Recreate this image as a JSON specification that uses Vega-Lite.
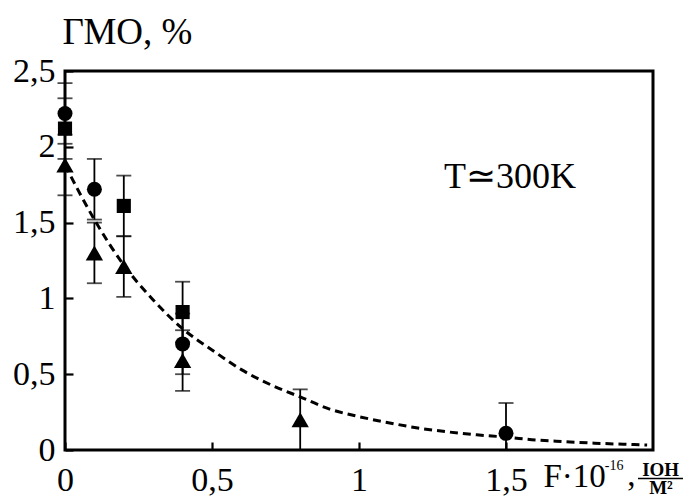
{
  "$schema": "https://vega.github.io/schema/vega-lite/v6.json",
  "width": 588,
  "height": 379,
  "autosize": {"type": "none"},
  "padding": {"left": 65, "top": 71, "right": 38, "bottom": 48},
  "background": "white",
  "config": {
    "view": {"stroke": "black", "strokeWidth": 3},
    "axis": {
      "domain": false,
      "grid": false,
      "tickColor": "black",
      "tickWidth": 2.2,
      "tickSize": -8,
      "labelFlush": false,
      "labelFont": "Liberation Serif",
      "labelFontSize": 34,
      "labelColor": "black",
      "titleFont": "Liberation Serif",
      "titleFontWeight": "normal",
      "titleColor": "black"
    },
    "text": {"font": "Liberation Serif", "color": "black"}
  },
  "datasets": {
    "points": [
      {"x": 0, "y": 2.22, "lo": 2.02, "hi": 2.42, "s": "circle"},
      {"x": 0.1, "y": 1.72, "lo": 1.52, "hi": 1.92, "s": "circle"},
      {"x": 0.4, "y": 0.70, "lo": 0.50, "hi": 0.90, "s": "circle"},
      {"x": 1.5, "y": 0.11, "lo": 0.0, "hi": 0.31, "s": "circle"},
      {"x": 0, "y": 2.12, "lo": 1.92, "hi": 2.32, "s": "square"},
      {"x": 0.2, "y": 1.61, "lo": 1.41, "hi": 1.81, "s": "square"},
      {"x": 0.4, "y": 0.91, "lo": 0.71, "hi": 1.11, "s": "square"},
      {"x": 0, "y": 1.88, "lo": 1.68, "hi": 2.08, "s": "triangle"},
      {"x": 0.1, "y": 1.30, "lo": 1.10, "hi": 1.50, "s": "triangle"},
      {"x": 0.2, "y": 1.21, "lo": 1.01, "hi": 1.41, "s": "triangle"},
      {"x": 0.4, "y": 0.59, "lo": 0.39, "hi": 0.79, "s": "triangle"},
      {"x": 0.8, "y": 0.20, "lo": 0.0, "hi": 0.40, "s": "triangle"}
    ],
    "curve": [
      {"x": 0, "y": 1.88},
      {"x": 0.1, "y": 1.52},
      {"x": 0.2, "y": 1.22},
      {"x": 0.3, "y": 0.99},
      {"x": 0.4, "y": 0.80},
      {"x": 0.5, "y": 0.66},
      {"x": 0.6, "y": 0.53},
      {"x": 0.7, "y": 0.43},
      {"x": 0.8, "y": 0.35},
      {"x": 0.9, "y": 0.27},
      {"x": 1.0, "y": 0.22},
      {"x": 1.1, "y": 0.18},
      {"x": 1.2, "y": 0.145},
      {"x": 1.3, "y": 0.12},
      {"x": 1.4, "y": 0.10},
      {"x": 1.5, "y": 0.085},
      {"x": 1.6, "y": 0.066},
      {"x": 1.7, "y": 0.055},
      {"x": 1.8, "y": 0.045},
      {"x": 1.9, "y": 0.038},
      {"x": 1.98, "y": 0.033}
    ],
    "one": [{"k": 1}]
  },
  "layer": [
    {
      "data": {"name": "curve"},
      "mark": {"type": "line", "color": "black", "strokeWidth": 3, "strokeDash": [8, 5], "interpolate": "monotone", "clip": false},
      "encoding": {
        "x": {
          "field": "x",
          "type": "quantitative",
          "scale": {"domain": [0, 2], "nice": false, "zero": false},
          "axis": {
            "values": [0, 0.5, 1, 1.5],
            "labelExpr": "replace(toString(datum.value), '.', ',')",
            "labelPadding": 21,
            "title": "F·10",
            "titleFontSize": 33,
            "titleAlign": "left",
            "titleBaseline": "alphabetic",
            "titleAnchor": "start",
            "titleX": 478,
            "titleY": 36
          }
        },
        "y": {
          "field": "y",
          "type": "quantitative",
          "scale": {"domain": [0, 2.5], "nice": false},
          "axis": {
            "values": [0, 0.5, 1, 1.5, 2, 2.5],
            "labelExpr": "replace(toString(datum.value), '.', ',')",
            "labelPadding": 18,
            "title": "ГМО, %",
            "titleFontSize": 37,
            "titleAngle": 0,
            "titleAlign": "left",
            "titleBaseline": "alphabetic",
            "titleAnchor": "start",
            "titleX": -3,
            "titleY": -28
          }
        }
      }
    },
    {
      "data": {"name": "points"},
      "mark": {"type": "rule", "color": "black", "strokeWidth": 1.8},
      "encoding": {
        "x": {"field": "x", "type": "quantitative"},
        "y": {"field": "lo", "type": "quantitative"},
        "y2": {"field": "hi"}
      }
    },
    {
      "data": {"name": "points"},
      "mark": {"type": "tick", "orient": "horizontal", "color": "black", "size": 15, "thickness": 1.8},
      "encoding": {
        "x": {"field": "x", "type": "quantitative"},
        "y": {"field": "hi", "type": "quantitative"}
      }
    },
    {
      "data": {"name": "points"},
      "mark": {"type": "tick", "orient": "horizontal", "color": "black", "size": 15, "thickness": 1.8},
      "encoding": {
        "x": {"field": "x", "type": "quantitative"},
        "y": {"field": "lo", "type": "quantitative"}
      }
    },
    {
      "data": {"name": "points"},
      "transform": [{"filter": "datum.s === 'circle'"}],
      "mark": {"type": "point", "shape": "circle", "size": 225, "filled": true, "color": "black", "opacity": 1, "strokeWidth": 0},
      "encoding": {
        "x": {"field": "x", "type": "quantitative"},
        "y": {"field": "y", "type": "quantitative"}
      }
    },
    {
      "data": {"name": "points"},
      "transform": [{"filter": "datum.s === 'square'"}],
      "mark": {"type": "point", "shape": "square", "size": 200, "filled": true, "color": "black", "opacity": 1, "strokeWidth": 0},
      "encoding": {
        "x": {"field": "x", "type": "quantitative"},
        "y": {"field": "y", "type": "quantitative"}
      }
    },
    {
      "data": {"name": "points"},
      "transform": [{"filter": "datum.s === 'triangle'"}],
      "mark": {"type": "point", "shape": "triangle-up", "size": 300, "filled": true, "color": "black", "opacity": 1, "strokeWidth": 0},
      "encoding": {
        "x": {"field": "x", "type": "quantitative"},
        "y": {"field": "y", "type": "quantitative"}
      }
    },
    {
      "data": {"name": "one"},
      "mark": {"type": "text", "text": "T≃300K", "fontSize": 36, "align": "center", "baseline": "middle"},
      "encoding": {"x": {"datum": 1.514, "type": "quantitative"}, "y": {"datum": 1.80, "type": "quantitative"}}
    },
    {
      "data": {"name": "one"},
      "mark": {"type": "text", "text": "-16", "fontSize": 14, "align": "left", "baseline": "middle"},
      "encoding": {"x": {"datum": 1.836, "type": "quantitative"}, "y": {"datum": -0.106, "type": "quantitative"}}
    },
    {
      "data": {"name": "one"},
      "mark": {"type": "text", "text": ",", "fontSize": 33, "align": "left", "baseline": "alphabetic"},
      "encoding": {"x": {"datum": 1.912, "type": "quantitative"}, "y": {"datum": -0.237, "type": "quantitative"}}
    },
    {
      "data": {"name": "one"},
      "mark": {"type": "text", "text": "ІОН", "fontSize": 19, "fontWeight": "bold", "align": "center", "baseline": "alphabetic"},
      "encoding": {"x": {"datum": 2.026, "type": "quantitative"}, "y": {"datum": -0.172, "type": "quantitative"}}
    },
    {
      "data": {"name": "one"},
      "mark": {"type": "rule", "color": "black", "strokeWidth": 1.5},
      "encoding": {"x": {"datum": 1.949, "type": "quantitative"}, "x2": {"datum": 2.102}, "y": {"datum": -0.188, "type": "quantitative"}}
    },
    {
      "data": {"name": "one"},
      "mark": {"type": "text", "text": "М²", "fontSize": 19, "fontWeight": "bold", "align": "center", "baseline": "alphabetic"},
      "encoding": {"x": {"datum": 2.027, "type": "quantitative"}, "y": {"datum": -0.29, "type": "quantitative"}}
    }
  ]
}
